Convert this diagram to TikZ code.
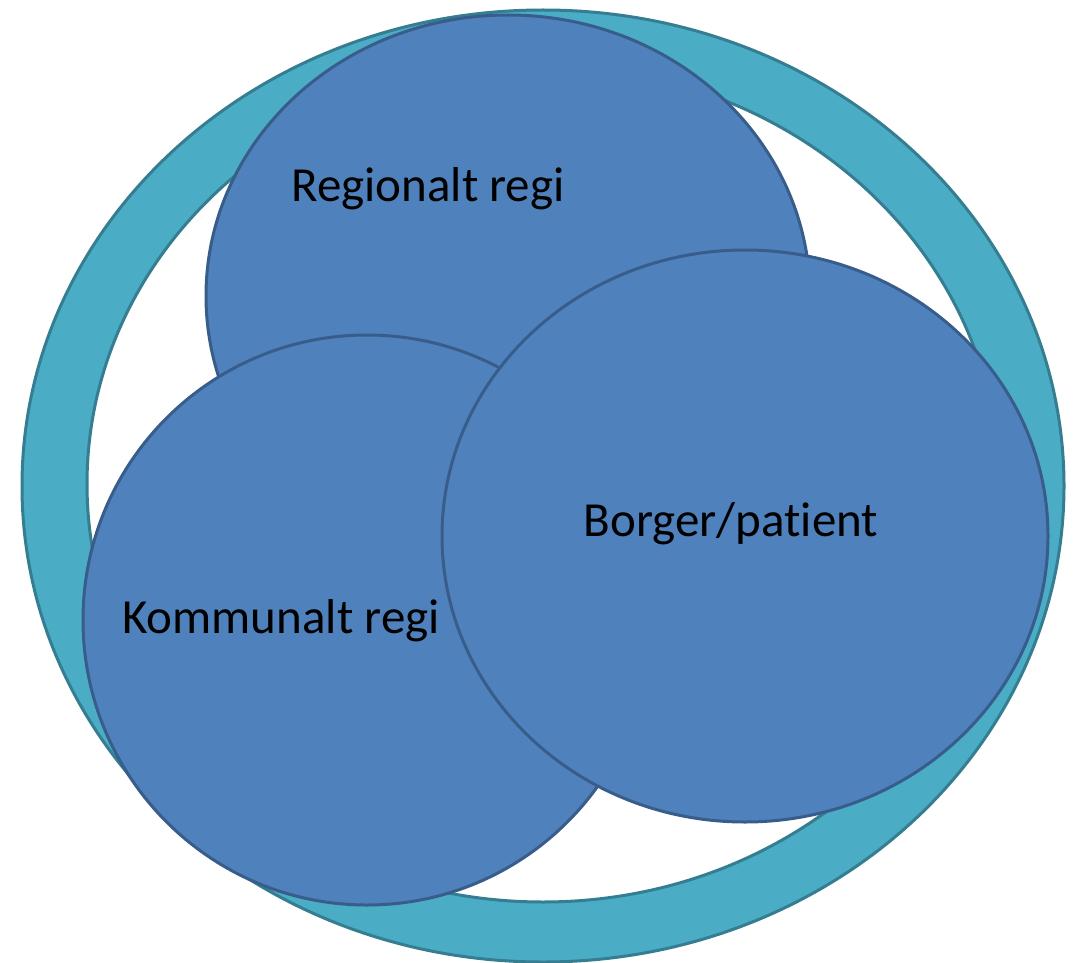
\documentclass[tikz,border=0pt]{standalone}
\usepackage{fontspec}
\setmainfont{Carlito}
\usetikzlibrary{shapes.geometric}
\definecolor{ringfill}{HTML}{4BACC6}
\definecolor{ringline}{HTML}{357D91}
\definecolor{circfill}{HTML}{4F81BD}
\definecolor{circline}{HTML}{385D8A}
\tikzset{
  bubble/.style={ellipse, draw=circline, fill=circfill, line width=3pt, inner sep=0pt},
  lbl/.style={font=\fontsize{49}{58}\selectfont, text=black, inner sep=0pt}
}
\begin{document}
\begin{tikzpicture}[x=1pt,y=-1pt]
\useasboundingbox[fill=white] (0,0) rectangle (1076,963);
% outer ring
\fill[ringfill, even odd rule] (543,486) ellipse [x radius=521, y radius=476]
  (543,484) ellipse [x radius=456, y radius=418];
\draw[ringline, line width=3pt] (543,486) ellipse [x radius=521, y radius=476];
\draw[ringline, line width=3pt] (543,484) ellipse [x radius=456, y radius=418];
% circles
\node[bubble, minimum width=604pt, minimum height=562pt] (reg) at (508,296) {};
\node[bubble, minimum width=568pt, minimum height=570pt] (kom) at (367,620) {};
\node[bubble, minimum width=606pt, minimum height=572pt] (bor) at (745,536) {};
% labels
\node[lbl, anchor=base] (regt) at (428,201) {Regionalt regi};
\node[lbl, anchor=base] (komt) at (281,633) {Kommunalt regi};
\node[lbl, anchor=base] (bort) at (731,536) {Borger/pat\kern0pt ient};
\end{tikzpicture}
\end{document}
